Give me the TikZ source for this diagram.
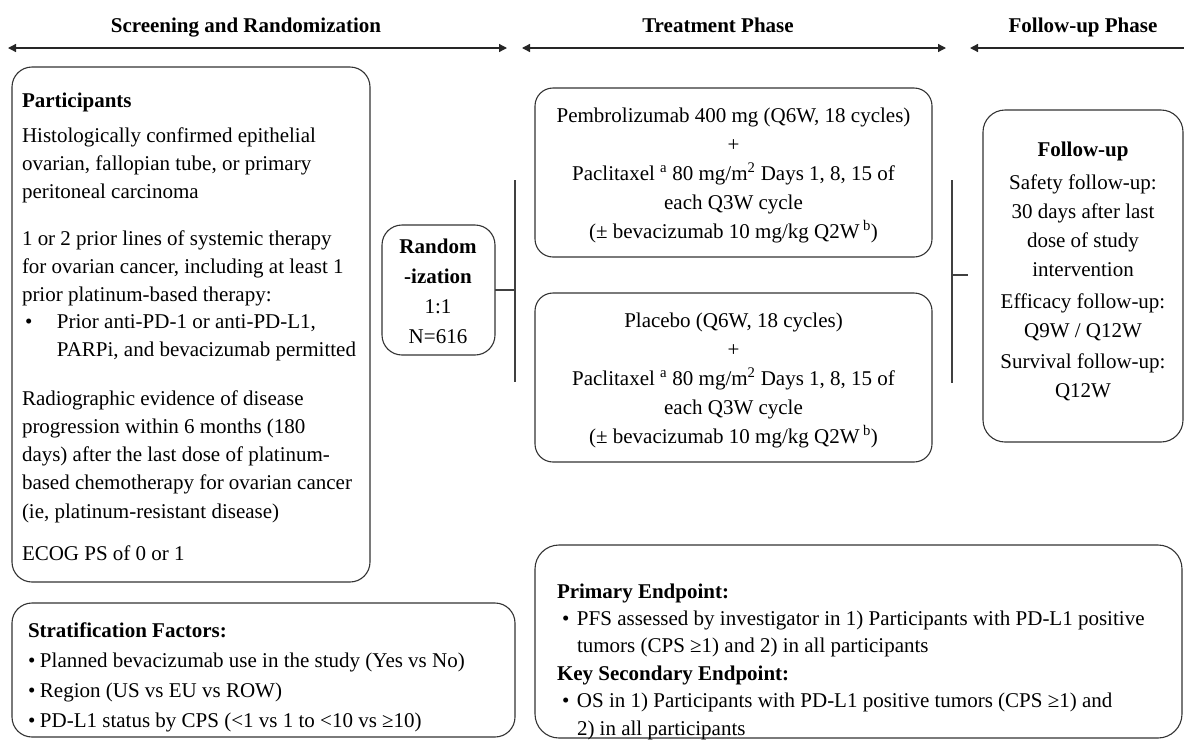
\documentclass[tikz,border=0pt]{standalone}
\usepackage{fontspec}
\setmainfont{Liberation Serif}
\usetikzlibrary{arrows.meta}
\begin{document}
\begin{tikzpicture}[x=1pt,y=-1pt,
  box/.style={draw=black!80, line width=1.1pt, rounded corners=18pt, inner sep=0pt, outer sep=0pt, anchor=north west},
  txt/.style={inner sep=0pt, outer sep=0pt, text=black},
  hdr/.style={inner sep=0pt, font=\fontsize{21}{25}\selectfont\bfseries, anchor=base},
  harrow/.style={draw=black!85, line width=1.3pt},
  link/.style={draw=black!75, line width=1.1pt}
]
\useasboundingbox (0,0) rectangle (1184,740);

% headers
\node[hdr] (h1) at (246,32) {Screening and Randomization};
\node[hdr] (h2) at (718,32) {Treatment Phase};
\node[hdr] (h3) at (1083,32) {Follow-up Phase};
\coordinate (a1l) at (8,48);
\coordinate (a1r) at (507,48);
\coordinate (a2l) at (522,48);
\coordinate (a2r) at (946,48);
\coordinate (a3l) at (970,48);
\coordinate (a3r) at (1184,48);
\draw[harrow, {Triangle[length=8pt,width=8pt]}-{Triangle[length=8pt,width=8pt]}] (a1l) -- (a1r);
\draw[harrow, {Triangle[length=8pt,width=8pt]}-{Triangle[length=8pt,width=8pt]}] (a2l) -- (a2r);
\draw[harrow, {Triangle[length=8pt,width=8pt]}-] (a3l) -- (a3r);

% boxes
\node[box, rounded corners=20pt, minimum width=358pt, minimum height=515pt] (pbox) at (12,67) {};
\node[box, rounded corners=20pt, minimum width=503pt, minimum height=134pt] (sbox) at (12,603) {};
\node[box, rounded corners=20pt, minimum width=113pt, minimum height=130pt] (rbox) at (382,225) {};
\node[box, minimum width=397pt, minimum height=169pt] (t1box) at (535,88) {};
\node[box, minimum width=397pt, minimum height=169pt] (t2box) at (535,293) {};
\node[box, rounded corners=22pt, minimum width=200pt, minimum height=332pt] (fbox) at (983,110) {};
\node[box, rounded corners=24pt, minimum width=647pt, minimum height=193pt] (ebox) at (535,545) {};

% participants text (anchor = last line baseline)
\node[txt, anchor=base west, align=left, font=\fontsize{21}{28.3}\selectfont] (ptxt) at (22,560) {%
\textbf{Participants}\\[6.7pt]
Histologically confirmed epithelial\\
ovarian, fallopian tube, or primary\\
peritoneal carcinoma\\[18.1pt]
1 or 2 prior lines of systemic therapy\\
for ovarian cancer, including at least 1\\
prior platinum-based therapy:\\[-1.9pt]
\hspace*{3pt}\makebox[32pt][l]{•}Prior anti-PD-1 or anti-PD-L1,\\
\hspace*{35pt}PARPi, and bevacizumab permitted\\[20.4pt]
Radiographic evidence of disease\\
progression within 6 months (180\\
days) after the last dose of platinum-\\
based chemotherapy for ovarian cancer\\
(ie, platinum-resistant disease)\\[13.5pt]
ECOG PS of 0 or 1};

% stratification text
\node[txt, anchor=base west, align=left, font=\fontsize{21}{30}\selectfont] (stxt) at (28,727) {%
\textbf{Stratification Factors:}\\
\makebox[12pt][l]{•}Planned bevacizumab use in the study (Yes vs No)\\
\makebox[12pt][l]{•}Region (US vs EU vs ROW)\\
\makebox[12pt][l]{•}PD-L1 status by CPS (<1 vs 1 to <10 vs ≥10)};

% randomization text
\node[txt, anchor=base, align=center, font=\fontsize{21}{30}\selectfont] (rtxt) at (438,343) {%
\textbf{Random}\\\textbf{-ization}\\1:1\\N=616};

% treatment texts
\node[txt, anchor=base, align=center, font=\fontsize{21}{29}\selectfont] (t1txt) at (733.5,238) {%
Pembrolizumab 400 mg (Q6W, 18 cycles)\\
+\\
Paclitaxel \textsuperscript{a} 80 mg/m\textsuperscript{2} Days 1, 8, 15 of\\
each Q3W cycle\\
(± bevacizumab 10 mg/kg Q2W\,\textsuperscript{b})};
\node[txt, anchor=base, align=center, font=\fontsize{21}{29}\selectfont] (t2txt) at (733.5,443) {%
Placebo (Q6W, 18 cycles)\\
+\\
Paclitaxel \textsuperscript{a} 80 mg/m\textsuperscript{2} Days 1, 8, 15 of\\
each Q3W cycle\\
(± bevacizumab 10 mg/kg Q2W\,\textsuperscript{b})};

% follow-up text
\node[txt, anchor=base, align=center, font=\fontsize{21}{29}\selectfont] (ftxt) at (1083,397) {%
\textbf{Follow-up}\\[4pt]
Safety follow-up:\\
30 days after last\\
dose of study\\
intervention\\[3pt]
Efficacy follow-up:\\
Q9W / Q12W\\[2pt]
Survival follow-up:\\
Q12W};

% endpoints text
\node[txt, anchor=base west, align=left, font=\fontsize{21}{27.4}\selectfont] (etxt) at (557,735) {%
\textbf{Primary Endpoint:}\\
\hspace*{5pt}\makebox[15pt][l]{•}PFS assessed by investigator in 1) Participants with PD-L1 positive\\
\hspace*{20pt}tumors (CPS ≥1) and 2) in all participants\\
\textbf{Key Secondary Endpoint:}\\
\hspace*{5pt}\makebox[15pt][l]{•}OS in 1) Participants with PD-L1 positive tumors (CPS ≥1) and\\
\hspace*{20pt}2) in all participants};

% connectors (brackets)
\coordinate (lb1) at (515,180);
\coordinate (lb2) at (515,382);
\draw[link] (lb1) -- (lb2);
\draw[link] (rbox.east) -- (rbox.east -| lb1);
\coordinate (rb1) at (952,180);
\coordinate (rb2) at (952,383);
\coordinate (rtick) at (968,275);
\draw[link] (rb1) -- (rb2);
\draw[link] (rtick -| rb1) -- (rtick);
\end{tikzpicture}
\end{document}
